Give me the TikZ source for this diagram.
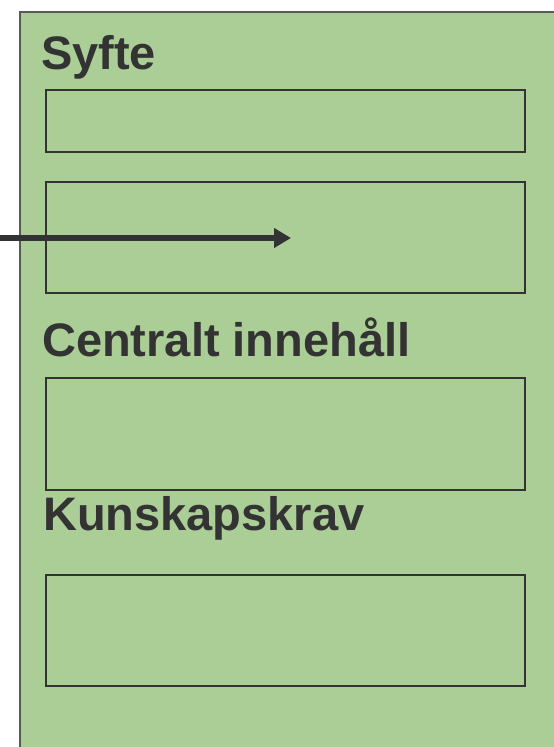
\documentclass[tikz,border=0pt]{standalone}
\usepackage{fontspec}
\setmainfont{Liberation Sans}
\usetikzlibrary{arrows.meta}
\definecolor{planGreen}{HTML}{AACE96}
\definecolor{planInk}{HTML}{333333}
\begin{document}
\begin{tikzpicture}[x=1pt, y=-1pt,
      panel/.style={draw=black!65, line width=2pt, fill=planGreen, anchor=north west, inner sep=0pt},
      ruta/.style={draw=planInk, line width=2pt, inner sep=0pt},
      rubrik/.style={font=\fontsize{47}{50}\selectfont\bfseries, text=planInk, anchor=base west, inner sep=0pt},
      pil/.style={draw=planInk, line width=5.5pt, -{Triangle[length=17pt, width=19pt]}}
    ]
    \useasboundingbox (0,0) rectangle (554,747);
    \clip (0,0) rectangle (554,747);

    % --- bakgrund ---
    \node[panel, minimum width=600pt, minimum height=800pt] (plan) at (19,11) {};

    % --- Syfte ---
    \node[rubrik] (syfte) at (41,69) {Syfte};
    \node[ruta, minimum width=479pt, minimum height=62pt] (syfteA) at (285.5,121) {};
    \node[ruta, minimum width=479pt, minimum height=111pt] (syfteB) at (285.5,237.5) {};

    % --- Centralt innehåll ---
    \node[rubrik] (innehall) at (42,356) {Centralt innehåll};
    \node[ruta, minimum width=479pt, minimum height=112pt] (innehallA) at (285.5,434) {};

    % --- Kunskapskrav ---
    \node[rubrik] (krav) at (43,530) {Kunskapskrav};
    \node[ruta, minimum width=479pt, minimum height=111pt] (kravA) at (285.5,630.5) {};

    % --- pil in i syftet ---
    \coordinate (pilStart) at (0,238);
    \coordinate (pilSlut) at (291,238);
    \draw[pil] (pilStart) -- (pilSlut);
  \end{tikzpicture}
\end{document}
